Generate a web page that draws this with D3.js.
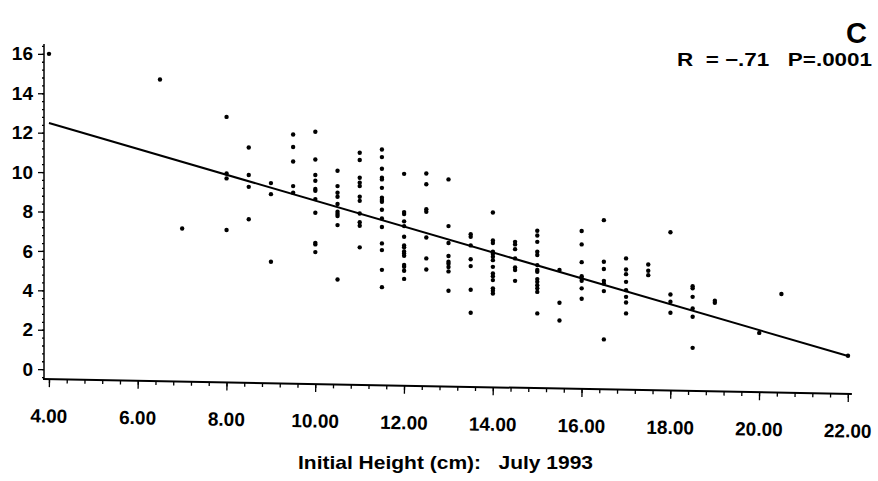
<!DOCTYPE html>
<html>
<head>
<meta charset="utf-8">
<script src="https://cdn.jsdelivr.net/npm/d3@7"></script>
<style>
  body { margin: 0; background: #fff; }
  svg text { font-family: "Liberation Sans", Arial, Helvetica, sans-serif; fill: #000; }
</style>
</head>
<body>
<svg id="chart" width="878" height="481"></svg>
<script>
// hauteur initiale (cm) de chaque colonne de points
const heightCols = [4, 6.5, 7, 8, 8.5, 9, 9.5, 10, 10.5, 11, 11.5, 12, 12.5, 13, 13.5,
  14, 14.5, 15, 15.5, 16, 16.5, 17, 17.5, 18, 18.5, 19, 20, 20.5, 22];

const growthCols = [
  [16],
  [14.7],
  [7.14],
  [12.8, 9.93, 9.68, 7.06],
  [11.25, 9.85, 9.25, 7.61],
  [9.44, 8.88, 5.45],
  [11.91, 11.27, 10.54, 9.29, 8.95],
  [12.05, 10.64, 9.85, 9.56, 9.14, 9.05, 8.63, 7.94, 6.41, 6.33, 5.94],
  [10.07, 9.29, 8.95, 8.75, 8.38, 7.99, 7.87, 7.77, 7.31, 4.55],
  [10.98, 10.61, 9.71, 9.46, 9.29, 8.75, 8.54, 7.90, 7.46, 7.28, 6.18],
  [11.15, 10.76, 10.17, 9.71, 9.63, 9.20, 8.70, 8.58, 8.49, 8.09, 7.65, 7.21, 6.38, 6.04, 5.04, 4.16],
  [9.91, 7.97, 7.87, 7.50, 7.26, 6.72, 6.28, 6.18, 5.97, 5.87, 5.75, 5.29, 5.19, 4.99, 4.58],
  [9.93, 9.38, 8.12, 7.99, 6.68, 5.62, 5.06],
  [9.63, 7.26, 6.40, 5.74, 5.45, 5.35, 5.18, 4.96, 3.98],
  [6.85, 6.72, 6.28, 5.58, 5.23, 4.03, 2.86],
  [7.95, 6.53, 6.40, 5.96, 5.85, 5.70, 5.53, 5.19, 4.86, 4.72, 4.52, 4.10, 3.98, 3.84],
  [6.46, 6.33, 6.09, 5.62, 5.16, 5.03, 4.48],
  [7.02, 6.78, 6.46, 5.96, 5.79, 5.28, 5.03, 4.94, 4.57, 4.43, 4.26, 4.10, 3.92, 2.83],
  [5.03, 3.37, 2.47],
  [7.01, 6.33, 5.43, 4.72, 4.60, 4.48, 4.10, 3.57],
  [7.56, 5.45, 5.08, 4.48, 4.35, 3.96, 1.51],
  [5.62, 5.06, 4.82, 4.43, 4.01, 3.67, 3.38, 2.83],
  [5.31, 4.99, 4.77],
  [6.95, 3.79, 3.42, 2.86],
  [4.21, 4.10, 3.67, 3.08, 2.66, 1.08],
  [3.47, 3.37],
  [1.84],
  [3.81],
  [0.68]
];

// droite de régression
const fitIntercept = 15.12;
const fitSlope = -0.657;
const fitRange = [4, 22];

const xTicks = [4, 6, 8, 10, 12, 14, 16, 18, 20, 22];
const yTicks = [0, 2, 4, 6, 8, 10, 12, 14, 16];

const points = [];
heightCols.forEach((h, i) => growthCols[i].forEach(v => points.push({ x: h, y: v })));

const svg = d3.select('#chart');

const x = d3.scaleLinear().domain([4, 22]).range([49, 848]);
const y = d3.scaleLinear().domain([-0.5, 16.5]).range([379, 44]);

// axe Y
const yAxis = svg.append('g').attr('transform', 'translate(44,0)');
yAxis.call(d3.axisLeft(y).tickValues(d3.range(-0.4, 16.5, 0.4)).tickSize(2).tickFormat(''))
  .call(g => g.select('.domain').remove());
yAxis.append('g').call(d3.axisLeft(y).tickValues(yTicks).tickSize(6).tickPadding(5).tickFormat(d3.format('d')))
  .call(g => g.select('.domain').remove())
  .call(g => g.selectAll('text').attr('font-size', 19).attr('font-weight', 'bold'));
yAxis.append('line').attr('x1', 0).attr('x2', 0).attr('y1', y.range()[1]).attr('y2', y.range()[0])
  .attr('stroke', '#000').attr('stroke-width', 1.5);
yAxis.selectAll('.tick line').attr('stroke', '#000').attr('stroke-width', 1.3);

// axe X (légèrement incliné comme sur le scan)
const tilt = Math.atan2(15, 809) * 180 / Math.PI;
const xAxis = svg.append('g').attr('transform', `rotate(${tilt},43,379) translate(0,379)`);
xAxis.call(d3.axisBottom(x).tickValues(d3.range(4, 22.01, 0.4)).tickSize(4).tickFormat(''))
  .call(g => g.select('.domain').remove());
xAxis.append('g').call(d3.axisBottom(x).tickValues(xTicks).tickSize(8).tickPadding(22).tickFormat(d3.format('.2f')))
  .call(g => g.select('.domain').remove())
  .call(g => g.selectAll('text').attr('font-size', 19).attr('font-weight', 'bold'));
xAxis.append('line').attr('x1', 43).attr('x2', 852).attr('y1', 0).attr('y2', 0)
  .attr('stroke', '#000').attr('stroke-width', 2);
xAxis.selectAll('.tick line').attr('stroke', '#000').attr('stroke-width', 1.3);

// droite de régression
svg.append('line')
  .attr('x1', x(fitRange[0])).attr('y1', y(fitIntercept + fitSlope * fitRange[0]))
  .attr('x2', x(fitRange[1])).attr('y2', y(fitIntercept + fitSlope * fitRange[1]))
  .attr('stroke', '#000').attr('stroke-width', 2);

// points
svg.append('g').selectAll('circle')
  .data(points)
  .enter().append('circle')
  .attr('cx', d => x(d.x))
  .attr('cy', d => y(d.y))
  .attr('r', 2.2)
  .attr('fill', '#000');

// textes
svg.append('text').attr('x', 298).attr('y', 469)
  .attr('font-size', 19).attr('font-weight', 'bold')
  .attr('textLength', 295).attr('lengthAdjust', 'spacingAndGlyphs')
  .attr('xml:space', 'preserve')
  .text('Initial Height (cm):   July 1993');

svg.append('text').attr('x', 867).attr('y', 43).attr('text-anchor', 'end')
  .attr('font-size', 29).attr('font-weight', 'bold')
  .text('C');

svg.append('text').attr('x', 677).attr('y', 66)
  .attr('font-size', 18).attr('font-weight', 'bold')
  .attr('textLength', 195).attr('lengthAdjust', 'spacingAndGlyphs')
  .attr('xml:space', 'preserve')
  .text('R  = \u2212.71   P=.0001');
</script>
</body>
</html>
